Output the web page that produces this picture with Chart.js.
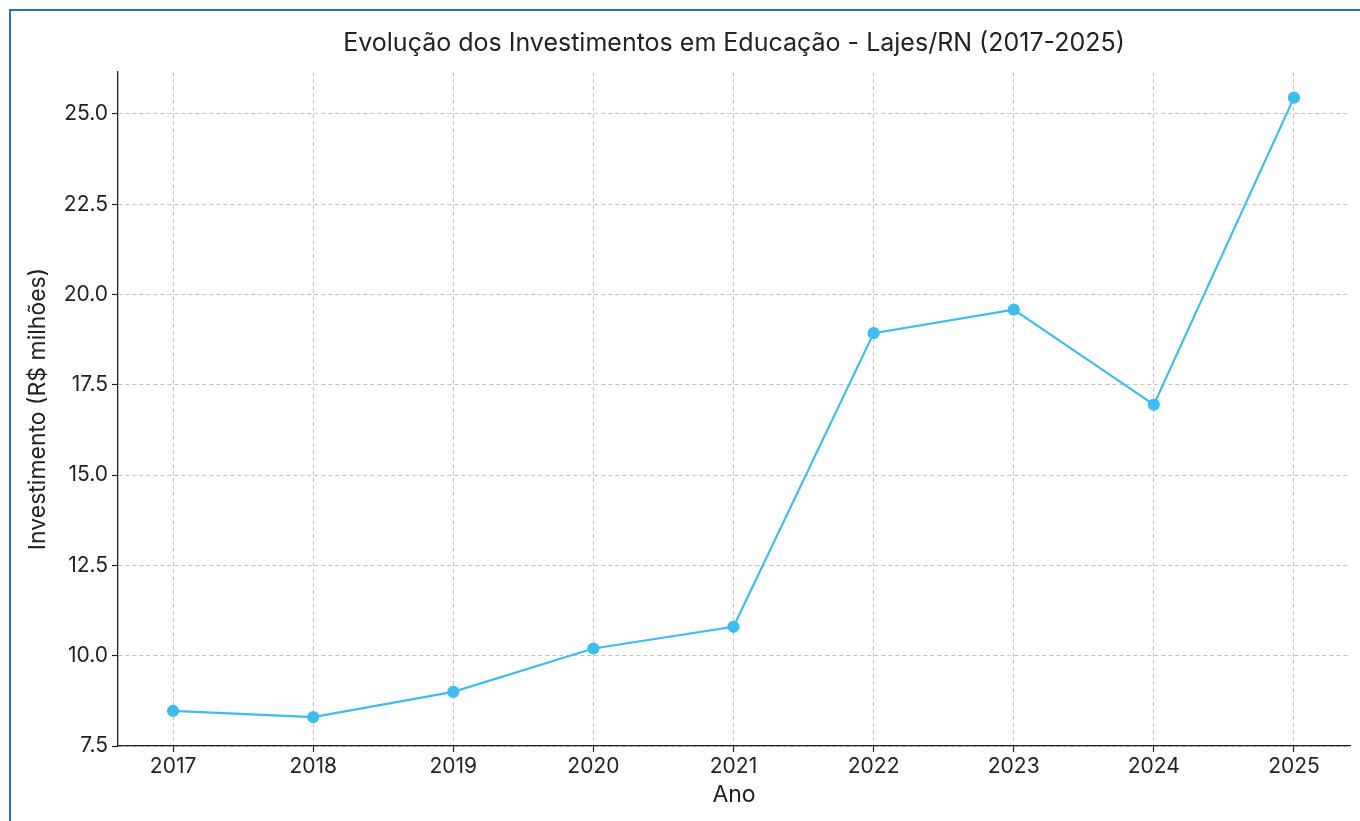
<!DOCTYPE html>
<html>
<head>
<meta charset="utf-8">
<script src="https://cdn.jsdelivr.net/npm/chart.js@4"></script>
<style>
  html, body { margin: 0; padding: 0; background: #fff; }
  #wrap { position: relative; width: 1360px; height: 821px; }
  #frame { position: absolute; left: 9px; top: 9px; right: 0; bottom: 0;
           border-left: 2px solid #2f6fb8; border-top: 2px solid #2f6fb8; pointer-events: none; }
  canvas { position: absolute; left: 0; top: 0; }
</style>
</head>
<body>
<div id="wrap">
  <canvas id="lineChart" width="1360" height="821"></canvas>
  <div id="frame"></div>
</div>
<script>
var anos = [2017, 2018, 2019, 2020, 2021, 2022, 2023, 2024, 2025];
var investimentos = [8.47, 8.3, 9.0, 10.2, 10.8, 18.93, 19.58, 16.95, 25.45];
var yTicks = [7.5, 10.0, 12.5, 15.0, 17.5, 20.0, 22.5, 25.0];
var titulo = "Evolução dos Investimentos em Educação - Lajes/RN (2017-2025)";

var fonte = "Inter, 'Noto Sans', sans-serif";
var corTexto = "#222222";
var corLinha = "#3bbdee";

Chart.defaults.font.family = fonte;
Chart.defaults.color = corTexto;

// title centred over the plot area, like the original
var titlePlugin = {
  id: "plotTitle",
  afterDraw: function (chart) {
    var ctx = chart.ctx;
    var a = chart.chartArea;
    ctx.save();
    ctx.font = "25px " + fonte;
    ctx.fillStyle = corTexto;
    ctx.textAlign = "center";
    ctx.textBaseline = "middle";
    ctx.fillText(titulo, (a.left + a.right) / 2, 43);
    ctx.restore();
  }
};

new Chart("lineChart", {
  type: "line",
  data: {
    datasets: [{
      data: anos.map(function (a, i) { return {x: a, y: investimentos[i]}; }),
      borderColor: corLinha,
      backgroundColor: corLinha,
      borderWidth: 2.2,
      pointRadius: 5,
      pointHoverRadius: 5,
      tension: 0
    }]
  },
  options: {
    responsive: false,
    animation: false,
    layout: { padding: { top: 72, right: 10, left: 0, bottom: 0 } },
    plugins: { legend: { display: false }, tooltip: { enabled: false } },
    scales: {
      x: {
        type: "linear",
        min: 2016.607,
        max: 2025.4,
        afterBuildTicks: function (s) { s.ticks = anos.map(function (v) { return {value: v}; }); },
        afterFit: function (s) { s.height = 75; },
        ticks: { font: { size: 21 }, color: corTexto, padding: 2, maxRotation: 0,
                 callback: function (v) { return String(v); } },
        grid: { color: "#c4c4c4", lineWidth: 1, tickColor: corTexto, tickLength: 6, tickWidth: 1.2 },
        border: { display: true, color: corTexto, width: 1.3, dash: [4, 3] },
        title: { display: true, text: "Ano", font: { size: 23 }, color: corTexto, padding: { top: 0, bottom: 12 } }
      },
      y: {
        min: 7.5,
        max: 26.16,
        afterBuildTicks: function (s) { s.ticks = yTicks.map(function (v) { return {value: v}; }); },
        afterFit: function (s) { s.width = 118; },
        ticks: { font: { size: 21 }, color: corTexto, padding: 4,
                 callback: function (v) { return v.toFixed(1); } },
        grid: { color: "#c4c4c4", lineWidth: 1, tickColor: corTexto, tickLength: 6, tickWidth: 1.2 },
        border: { display: true, color: corTexto, width: 1.3, dash: [4, 3] },
        title: { display: true, text: "Investimento (R$ milhões)", font: { size: 23 }, color: corTexto, padding: { top: 24, bottom: 0 } }
      }
    }
  },
  plugins: [titlePlugin]
});
</script>
</body>
</html>
